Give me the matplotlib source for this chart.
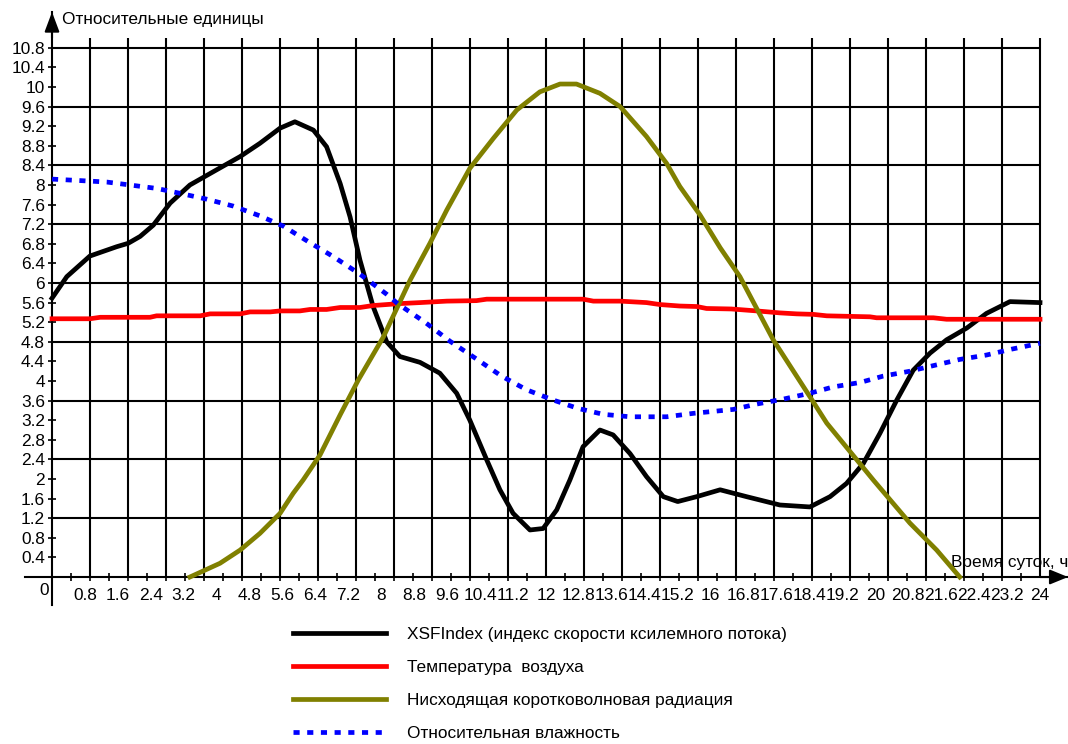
import matplotlib.pyplot as plt
import numpy as np

plt.rcParams['font.family'] = ['Liberation Sans', 'DejaVu Sans']

# XSFIndex (индекс скорости ксилемного потока)
xsf_t = [0, 0.36, 0.92, 1.57, 1.85, 2.14, 2.46, 2.87, 3.35, 4.0, 4.57, 5.05, 5.54, 5.9,
         6.35, 6.67, 7.0, 7.24, 7.48, 7.8, 8.13, 8.45, 8.94, 9.42, 9.83, 10.15, 10.56,
         10.88, 11.2, 11.61, 11.93, 12.26, 12.58, 12.9, 13.31, 13.63, 14.04, 14.44,
         14.85, 15.2, 15.66, 16.23, 16.87, 17.68, 18.41, 18.9, 19.3, 19.71, 20.11,
         20.52, 20.92, 21.33, 21.73, 22.22, 22.7, 23.27, 24.0]
xsf_v = [5.69, 6.13, 6.55, 6.74, 6.81, 6.95, 7.18, 7.63, 8.0, 8.31, 8.58, 8.85, 9.16, 9.29,
         9.12, 8.78, 8.03, 7.35, 6.47, 5.52, 4.8, 4.5, 4.38, 4.16, 3.75, 3.2, 2.39,
         1.78, 1.3, 0.96, 0.99, 1.37, 1.98, 2.66, 3.0, 2.9, 2.52, 2.05,
         1.64, 1.54, 1.64, 1.78, 1.64, 1.47, 1.43, 1.64, 1.91, 2.32, 2.93,
         3.61, 4.22, 4.57, 4.84, 5.08, 5.38, 5.62, 5.6]

# Температура воздуха
temp_t = [0, 0.92, 1.17, 2.38, 2.54, 3.6, 3.84, 4.57, 4.81, 5.3, 5.54, 6.02, 6.27, 6.67,
          7.0, 7.48, 7.8, 8.45, 8.94, 9.59, 10.31, 10.56, 12.9, 13.15, 13.8, 14.44,
          14.77, 15.25, 15.66, 15.9, 16.5, 17.12, 17.68, 18.09, 18.49, 18.82, 19.87,
          20.03, 21.41, 21.73, 24.0]
temp_v = [5.27, 5.27, 5.3, 5.3, 5.33, 5.33, 5.37, 5.37, 5.41, 5.41, 5.43, 5.43, 5.46, 5.46,
          5.5, 5.5, 5.54, 5.58, 5.6, 5.63, 5.64, 5.67, 5.67, 5.63, 5.63, 5.6,
          5.56, 5.53, 5.52, 5.48, 5.47, 5.43, 5.39, 5.37, 5.36, 5.33, 5.31,
          5.29, 5.29, 5.26, 5.26]

# Нисходящая коротковолновая радиация
rad_t = [3.35, 4.08, 4.57, 5.05, 5.54, 5.86, 6.1, 6.51, 7.0, 7.44, 8.05, 8.7, 9.18, 9.59,
         10.15, 10.72, 11.29, 11.85, 12.34, 12.74, 13.31, 13.8, 14.44, 14.93, 15.25,
         15.74, 16.23, 16.71, 17.52, 18.41, 18.82, 19.22, 19.95, 20.84, 21.49, 22.05]
rad_v = [0.0, 0.28, 0.55, 0.89, 1.3, 1.71, 1.98, 2.49, 3.31, 4.02, 4.9, 6.06, 6.81, 7.49,
         8.34, 8.95, 9.53, 9.9, 10.06, 10.06, 9.87, 9.6, 8.99, 8.44, 7.97,
         7.39, 6.72, 6.13, 4.84, 3.68, 3.14, 2.73, 1.98, 1.1, 0.55, 0.0]

# Относительная влажность
hum_t = [0.0, 0.68, 1.33, 1.89, 2.54, 3.11, 3.76, 4.4, 5.05, 5.62, 6.27, 6.83, 7.48, 8.13,
         8.41, 9.06, 9.67, 10.31, 10.92, 11.53, 12.18, 12.78, 13.39, 14.04, 14.93, 15.58,
         16.55, 17.12, 17.76, 18.41, 18.98, 19.63, 20.19, 20.84, 21.49, 22.05, 22.7,
         23.31, 24.0]
hum_v = [8.12, 8.09, 8.06, 8.0, 7.93, 7.83, 7.71, 7.57, 7.37, 7.16, 6.82, 6.54, 6.18, 5.77,
         5.57, 5.2, 4.81, 4.45, 4.1, 3.82, 3.61, 3.44, 3.32, 3.27, 3.27, 3.34,
         3.42, 3.53, 3.63, 3.75, 3.88, 3.97, 4.1, 4.2, 4.33, 4.44, 4.53,
         4.65, 4.77]

labels = ['XSFIndex (индекс скорости ксилемного потока)',
          'Температура  воздуха',
          'Нисходящая коротковолновая радиация',
          'Относительная влажность']

fs = 12.4

fig = plt.figure(figsize=(10.68, 7.44), dpi=100)
ax = fig.add_axes([25 / 1068, 1 - 605 / 744, 1043 / 1068, 593 / 744])
ax.set_xlim(-0.656, 24.68)
ax.set_ylim(-0.571, 11.53)

# сетка
ax.vlines(np.arange(1, 27) * 24 / 26, 0, 11.0, color='k', lw=1.5, zorder=1)
ax.hlines(np.arange(1, 10) * 1.2, 0, 24, color='k', lw=1.5, zorder=1)

# оси через ноль
for s in ['top', 'right']:
    ax.spines[s].set_visible(False)
ax.spines['left'].set_position(('data', 0))
ax.spines['bottom'].set_position(('data', 0))
ax.spines['left'].set_linewidth(1.5)
ax.spines['bottom'].set_linewidth(1.5)

yt = np.round(np.arange(1, 28) * 0.4, 1)
ax.set_yticks(yt)
ax.set_yticklabels(['%g' % v for v in yt])
ax.tick_params(axis='y', direction='inout', length=6, width=1.2, pad=2, labelsize=fs)

xt = np.round(np.arange(1, 31) * 0.8, 1)
ax.set_xticks(xt)
ax.set_xticklabels(['%g' % v for v in xt])
ax.tick_params(axis='x', which='major', length=0, pad=8, labelsize=fs)
ax.set_xticks(np.arange(1, 53) * 12 / 26, minor=True)
ax.tick_params(axis='x', which='minor', direction='inout', length=6, width=1.2)

# стрелки осей
ax.annotate('', xy=(24.68, 0), xytext=(24.0, 0), annotation_clip=False,
            arrowprops=dict(arrowstyle='-|>,head_length=1.1,head_width=0.45',
                            color='k', lw=1.5, shrinkA=0, shrinkB=0))
ax.annotate('', xy=(0, 11.53), xytext=(0, 11.0), annotation_clip=False,
            arrowprops=dict(arrowstyle='-|>,head_length=1.2,head_width=0.45',
                            color='k', lw=1.5, shrinkA=0, shrinkB=0))

ax.text(0.24, 11.37, 'Относительные единицы', ha='left', va='center', fontsize=fs)
ax.text(21.84, 0.29, 'Время суток, ч', ha='left', va='center', fontsize=fs, clip_on=False)
ax.text(-0.19, -0.27, '0', ha='center', va='center', fontsize=fs)

ax.plot(xsf_t, xsf_v, color='k', lw=3.4, label=labels[0], zorder=3)
ax.plot(temp_t, temp_v, color='#ff0000', lw=3.4, label=labels[1], zorder=3)
ax.plot(rad_t, rad_v, color='#808000', lw=3.4, label=labels[2], zorder=3)
ax.plot(hum_t, hum_v, color='#0000ff', lw=3.4, linestyle=(0, (1.3, 1.6)),
        label=labels[3], zorder=4)

fig.legend(loc='upper left', bbox_to_anchor=(293 / 1068, 1 - 627 / 744), frameon=False,
           handlelength=5.4, handletextpad=1.2, labelspacing=1.05, fontsize=fs,
           borderpad=0, borderaxespad=0)

fig.savefig('out.png', dpi=100)
